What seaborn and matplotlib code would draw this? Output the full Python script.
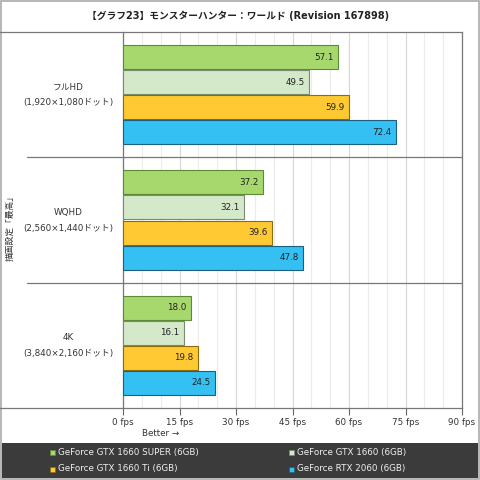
import matplotlib
matplotlib.use("Agg")
import matplotlib.pyplot as plt
import seaborn as sns
import pandas as pd
import numpy as np
from matplotlib.patches import Rectangle
from matplotlib.lines import Line2D

title = "【グラフ23】モンスターハンター：ワールド (Revision 167898)"
categories = ["フルHD\n(1,920×1,080ドット)", "WQHD\n(2,560×1,440ドット)", "4K\n(3,840×2,160ドット)"]
series = ["GeForce GTX 1660 SUPER (6GB)", "GeForce GTX 1660 (6GB)",
          "GeForce GTX 1660 Ti (6GB)", "GeForce RTX 2060 (6GB)"]
v_super = [57.1, 37.2, 18.0]
v_1660 = [49.5, 32.1, 16.1]
v_ti = [59.9, 39.6, 19.8]
v_2060 = [72.4, 47.8, 24.5]
xticks = [0, 15, 30, 45, 60, 75, 90]
xticklabels = ["0 fps", "15 fps", "30 fps", "45 fps", "60 fps", "75 fps", "90 fps"]
ylabel = "描画設定「最高」"
better = "Better →"

colors = ["#a7d86e", "#d4e9c9", "#fec933", "#34c0f2"]
edges = ["#5d8a35", "#7a8a70", "#8a6d10", "#1d5f80"]

rows = []
for s, vals in zip(series, [v_super, v_1660, v_ti, v_2060]):
    for c, v in zip(categories, vals):
        rows.append({"cat": c, "series": s, "fps": v})
df = pd.DataFrame(rows)

sns.set_theme(style="white")
plt.rcParams['font.family'] = ['DejaVu Sans', 'Noto Sans CJK JP']

FS = 6.3
fig = plt.figure(figsize=(4.8, 4.8), dpi=100)
ax = fig.add_axes([123/480, 1-408/480, 339/480, 376/480])

sns.barplot(data=df, y="cat", x="fps", hue="series", order=categories,
            hue_order=series, palette=colors, orient="h", ax=ax,
            width=0.8, gap=0.04, saturation=1, legend=False, zorder=3)

for cont, ec in zip(ax.containers, edges):
    for p in cont:
        p.set_edgecolor(ec)
        p.set_linewidth(0.8)
    txts = ax.bar_label(cont, fmt="%.1f", padding=-3, fontsize=FS, color="#222222")
    for t in txts:
        t.set_ha("right")

ax.set_xlim(0, 90)
ax.set_ylim(2.5, -0.5)
ax.set_xticks(xticks)
ax.set_xticklabels(xticklabels, fontsize=FS, color="#333333")
ax.set_xticks(np.arange(0, 91, 5), minor=True)
ax.grid(True, axis="x", which="minor", color="#ececec", lw=0.8, zorder=0)
ax.grid(True, axis="x", which="major", color="#d6d6d6", lw=0.8, zorder=0)
ax.tick_params(axis="x", which="major", direction="out", length=5, width=0.8,
               color="#666666", pad=2, bottom=True)
ax.tick_params(axis="x", which="minor", length=0)
ax.set_yticks(range(3))
ax.set_yticklabels(categories, fontsize=FS, color="#333333", linespacing=2.0,
                   multialignment="center", va="center")
ax.tick_params(axis="y", length=0, pad=7)
ax.set_xlabel("")
ax.set_ylabel("")

ax.spines["top"].set_visible(False)
for sp in ["left", "right", "bottom"]:
    ax.spines[sp].set_color("#777777")
    ax.spines[sp].set_linewidth(0.9)

for yb in [0.5, 1.5]:
    ax.plot([-0.283 * 90, 90], [yb, yb], color="#777777", lw=0.9,
            clip_on=False, zorder=4)

# figure lines
fig.add_artist(Line2D([0, 462/480], [1-32/480, 1-32/480], color="#777777", lw=0.9))
fig.add_artist(Line2D([0, 123/480], [1-408/480, 1-408/480], color="#777777", lw=0.9))
fig.add_artist(Rectangle((0.002, 0.002), 0.996, 0.996, fill=False,
                         edgecolor="#aaaaaa", lw=1.2))

fig.text(238/480, 1-16/480, title, ha="center", va="center", fontsize=7,
         fontweight="bold", color="#222222")
fig.text(10/480, 1-226/480, ylabel, rotation=90, ha="center", va="center",
         fontsize=FS, color="#333333")
fig.text(161/480, 1-434/480, better, ha="center", va="center", fontsize=FS,
         color="#333333")

# legend panel
fig.add_artist(Rectangle((2/480, 2/480), 476/480, (478-443)/480,
                         facecolor="#3b3b3b", edgecolor="none"))
pos = [(50, 452), (289, 452), (50, 469), (289, 469)]
for (px, py), s, c, ec in zip(pos, series, colors, edges):
    fig.add_artist(Rectangle((px/480, 1-(py+2.5)/480), 5/480, 5/480,
                             facecolor=c, edgecolor=ec, lw=0.5))
    fig.text((px+8)/480, 1-py/480, s, ha="left", va="center", fontsize=FS,
             color="#f0f0f0")

fig.savefig("out.png", dpi=100)
